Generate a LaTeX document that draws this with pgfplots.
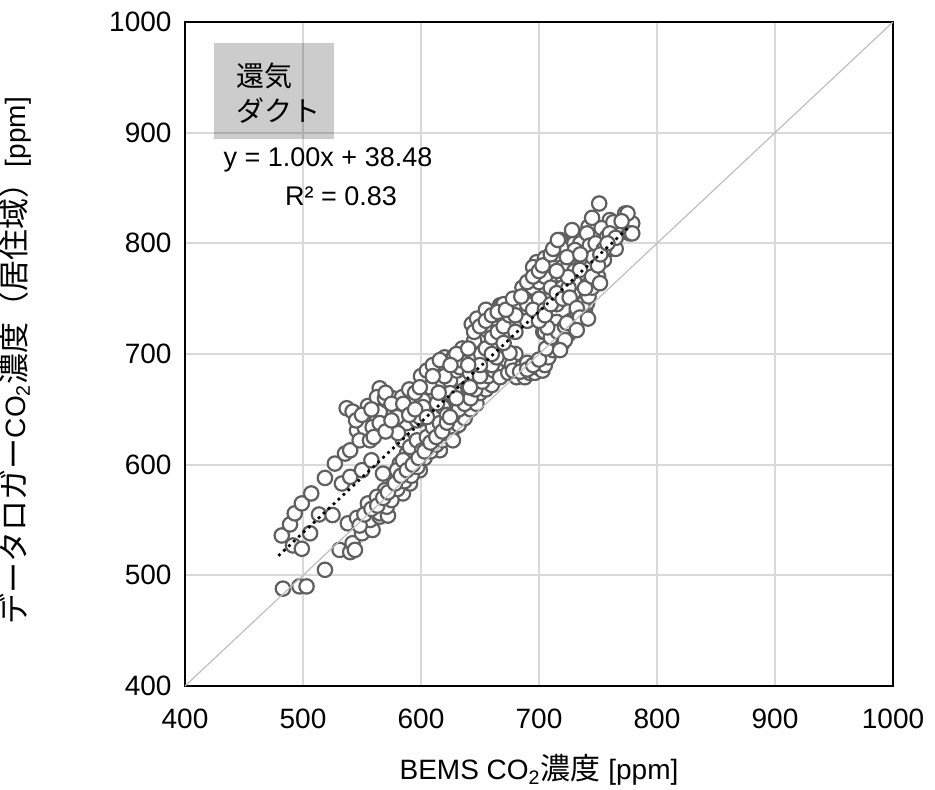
\documentclass[border=0pt]{standalone}
\usepackage{fontspec}
\setmainfont{Liberation Sans}
\newfontfamily\jp{Noto Sans CJK JP}
\usepackage{pgfplots}
\usepackage{pgfplotstable}
\pgfplotsset{compat=1.18}
\definecolor{gridc}{HTML}{D9D9D9}
\definecolor{diagc}{HTML}{BFBFBF}
\definecolor{markc}{HTML}{5F5F5F}

\pgfplotstableread{
x y
482 536
489 546
493 556
499 565
507 574
518.6 588
527 601
535.6 610
537 651
542 648
545.8 631
552.5 633
555 653
565 669
562.7 640
565 647.5
571 658
576 660
584 661
593 660
579.7 634
584.7 622
588 637.6
596.6 640
601.7 642
613.6 646.6
618.6 652
601.7 658
607.6 670
613.6 683
624.6 676
630.5 685
618.6 692
540 613
548 622
556.8 622
559 634
565 637.6
562.7 661
569.5 660
579.7 643
580.5 628.5
599 643
601.7 652
624.6 664.7
633 688
641.5 683
545 640
550 645
558 650
570 665
575 655
585 655
590 668
595 665
600 680
605 685
610 690
620 697
628 698
635 700
560 625
570 630
575 640
590 645
595 650
491.5 527
499 524
506 538
513.6 555
525 554.5
533 583
540 589
550 595
558 604
569.5 577
576 589
582 601
588 610
596.6 604
584.7 574
590.7 583
599 595
607.6 616
616 613
624.6 625
626 640
567.8 592
579.7 595
584.7 604
590.7 616
596.6 622
601 613
605 625
610 634
616 637.6
622 645
628.8 634
630.5 658
635.6 667
483 488
497 490
503 490
518.6 505
531 523
540 521
542 529
544 523
538 547
545.8 552
550 538
559 541
555 565
556.8 550
562.7 571
565 553
565 556
572 554
571 562
575 568
580 578
586 585
592 590
597 598
603 606
608 612
613 618
618 622
623 628
627 622
632 636
637 642
642 650
647 655
650 664.7
655 668
660 672
548 545
552 555
558 560
563 563
568 570
572 575
578 583
583 590
588 595
593 600
598 606
603 612
608 620
613 625
618 630
622 638
627 645
632 650
637 655
642 660
646 668
652 675
657 680
662 685
668 688
672 695
680 700
660 690
650 680
640 670
630 660
667 679
674 683
681 679
688 679
692 683
696.6 683
698 688
701 692
703 685
705 690
708 697
712 703.5
712 710
703.6 720
705 720
715 729
720 710
720 715
725 718
729 724
729 723
735 740
739 740
740.7 746
740.7 758
740.7 760
738 750
733 733
677 690
685 688
690 692
678 685
684 684
690 686
695 690
700 695
706 705
710 715
716 720
722 725
727 730
732 738
737 745
742 752
745 760
643 727
660 730.6
667 744
688 758
698 783
705 786.6
718 803
740.7 805.6
686 760
695 778.5
647.5 732
667 742
656 721.6
675 701
684 730.6
664 697
641.5 670
613.6 655.6
605 643
624.6 643
698 748.7
707 724
717.8 748.7
729 755
735 773
616 694.5
633 694.5
599 670
651 700
645 712
650 690
655 705
660 715
665 720
670 725
675 735
680 745
690 745
695 760
700 765
705 770
710 780
715 790
700 750
710 760
720 770
725 780
690 730
680 720
670 710
660 700
640 690
635 705
630 700
620 680
610 680
615 665
625 690
640 705
655 740
670 745
680 735
695 740
705 740
715 745
720 760
730 765
645 720
650 725
655 730
660 735
665 738
672 740
678 750
685 752
690 765
695 770
700 775
703 780
710 790
700 730
705 735
710 745
715 755
720 750
725 760
730 775
725 790
720 795
730 800
738 780
745 780
750 770
755 785
760 795
765 795
770 810
775 815
742 815
735 800
751 836
745 823
760 821
773 827
779 818
777 809
766 815
753 813.7
757.6 805.6
728 812
740.7 809
730.5 794
743 798
745.8 787.5
723.7 787.5
734.7 776
724.6 769.5
739 759.5
726 751
732 741.5
734.7 733
723.7 728
732 721.6
722 712.6
717.8 703.5
775 827
779 809
763 819
760 809
748 800
755 795
765 805
770 820
712 795
735 790
745 770
750 780
715 775
716 803
752 790
758 800
751.7 764
741.5 732
}\datatable

\begin{document}
\begin{tikzpicture}
\begin{axis}[
  scale only axis, width=354pt, height=332pt,
  xmin=400,xmax=1000,ymin=400,ymax=1000,
  xtick={400,500,...,1000}, ytick={400,500,...,1000},
  grid=major, grid style={gridc, line width=1pt},
  major tick length=0pt,
  clip marker paths=true,
  axis line style={black, line width=1pt},
  /pgf/number format/assume math mode=true,
  /pgf/number format/1000 sep={},
  tick label style={font=\fontsize{14}{16}\selectfont},
  label style={font=\fontsize{14}{16}\selectfont},
  xlabel={BEMS CO\textsubscript{2}{\jp\fontsize{15}{16}\selectfont 濃度} [ppm]},
  ylabel={{\jp\fontsize{15.5}{16}\selectfont データロガー}CO\textsubscript{2}{\jp\fontsize{15.5}{16}\selectfont 濃度（居住域）}[ppm]},
  xlabel style={at={(axis description cs:0.5,-0.1265)}, anchor=center},
  ylabel style={at={(axis description cs:-0.24,0.49)}, anchor=center},
  xticklabel style={yshift=-8pt},
  yticklabel style={xshift=-3.2pt},
]
\addplot[only marks, mark=*, mark size=3.6pt, mark options={fill=white, draw=markc, line width=1.1pt}] table[x=x,y=y] {\datatable};
\addplot[diagc, line width=0.6pt] coordinates {(400,400) (1000,1000)};
\addplot[black, line width=1.9pt, line cap=round, dash pattern=on 0pt off 3.4pt] coordinates {(480,518.48) (775,813.48)};
\fill[black, fill opacity=0.2] (axis cs:424.6,894) rectangle (axis cs:526.3,980.8);
\node[anchor=base west, inner sep=0, font=\jp\fontsize{14}{16}\selectfont] at (axis cs:443.2,942) {還気};
\node[anchor=base west, inner sep=0, font=\jp\fontsize{14}{16}\selectfont] at (axis cs:443.2,910.4) {ダクト};
\node[anchor=center, inner sep=0, font=\fontsize{13.5}{15}\selectfont] at (axis cs:521.2,875.2) {y = 1.00x + 38.48};
\node[anchor=center, inner sep=0, font=\fontsize{13.5}{15}\selectfont] at (axis cs:532.2,842.6) {R² = 0.83};
\end{axis}
\pgfresetboundingbox
\path (current axis.south west) ++(-92.5pt,-51.5pt) rectangle ++(467.5pt,394.5pt);
\end{tikzpicture}
\end{document}
